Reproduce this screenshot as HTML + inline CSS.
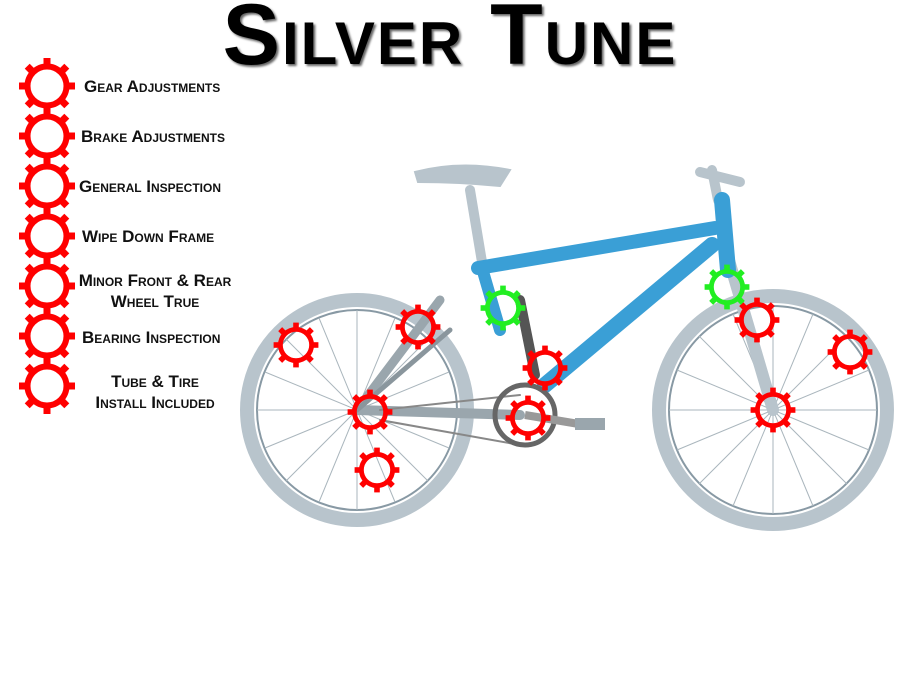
<!DOCTYPE html>
<html><head><meta charset="utf-8"><style>
body{margin:0;background:#fff;width:900px;height:695px;overflow:hidden;position:relative;font-family:"Liberation Sans",sans-serif}
.t{position:absolute;font-weight:bold;font-variant:small-caps;font-size:17px;color:#111;text-align:center;line-height:21px}
h1{position:absolute;left:0;width:900px;top:-14px;margin:0;text-align:center;font-size:86px;font-weight:900;font-variant:small-caps;letter-spacing:2px;color:#000;text-shadow:2px 2px 2px #666}
</style></head><body>
<svg width="900" height="695" style="position:absolute;left:0;top:0">
<defs>
<g id="teeth">
<rect x="-3.5" y="-28" width="7" height="8"/>
<rect x="-3.5" y="-28" width="7" height="8" transform="rotate(45)"/>
<rect x="-3.5" y="-28" width="7" height="8" transform="rotate(90)"/>
<rect x="-3.5" y="-28" width="7" height="8" transform="rotate(135)"/>
<rect x="-3.5" y="-28" width="7" height="8" transform="rotate(180)"/>
<rect x="-3.5" y="-28" width="7" height="8" transform="rotate(225)"/>
<rect x="-3.5" y="-28" width="7" height="8" transform="rotate(270)"/>
<rect x="-3.5" y="-28" width="7" height="8" transform="rotate(315)"/>
</g>
<g id="g"><circle r="19.5" fill="none" stroke="red" stroke-width="6"/><use href="#teeth" fill="red"/></g>
<g id="gg"><circle r="19.5" fill="none" stroke="#2e2" stroke-width="6"/><use href="#teeth" fill="#2e2"/></g>
</defs>
<g fill="none">
<circle cx="357" cy="410" r="110" stroke="#b8c4cc" stroke-width="14"/>
<circle cx="357" cy="410" r="100" stroke="#8899a4" stroke-width="2"/>
<circle cx="773" cy="410" r="114" stroke="#b8c4cc" stroke-width="14"/>
<circle cx="773" cy="410" r="104" stroke="#8899a4" stroke-width="2"/>
</g>
<g stroke="#aab6bd" stroke-width="1">
<path d="M357 310V510M257 410H457M286 339L428 481M428 339L286 481M319 318L395 502M395 318L319 502M265 372L449 448M265 448L449 372"/>
<path d="M773 306V514M669 410H877M699 336L847 484M847 336L699 484M733 314L813 506M813 314L733 506M677 370L869 450M677 450L869 370"/>
</g>
<g stroke-linecap="round" fill="none">
<path d="M470 190L482 262" stroke="#b8c4cc" stroke-width="10"/>
<path d="M415 172Q460 160 510 170L500 186Q460 182 418 182Z" fill="#b8c4cc" stroke="#b8c4cc" stroke-width="2"/>
<path d="M723 240L773 410" stroke="#b8c4cc" stroke-width="12"/>
<path d="M718 200L712 170M700 172L740 182" stroke="#b8c4cc" stroke-width="10"/>
<path d="M357 410L520 415" stroke="#9aa6ad" stroke-width="10"/>
<path d="M357 410L440 300" stroke="#9aa6ad" stroke-width="9"/>
<path d="M478 268L715 228" stroke="#3a9fd6" stroke-width="14"/>
<path d="M712 245L545 385" stroke="#3a9fd6" stroke-width="16"/>
<path d="M482 268L500 330" stroke="#3a9fd6" stroke-width="12"/>
<path d="M722 200L728 270" stroke="#3a9fd6" stroke-width="16"/>
<path d="M520 300L535 375" stroke="#555" stroke-width="10"/>
<path d="M357 410L450 330" stroke="#8a969d" stroke-width="5"/>
<path d="M380 410L520 395M380 420L520 445" stroke="#888" stroke-width="2"/>
</g>
<circle cx="525" cy="415" r="30" fill="none" stroke="#666" stroke-width="5"/>
<path d="M525 415L585 425" stroke="#999" stroke-width="8"/>
<rect x="575" y="418" width="30" height="12" fill="#9aa6ad"/>
<use href="#g" x="47" y="86"/><use href="#g" x="47" y="136"/><use href="#g" x="47" y="186"/>
<use href="#g" x="47" y="236"/><use href="#g" x="47" y="286"/><use href="#g" x="47" y="336"/><use href="#g" x="47" y="386"/>
<use href="#g" transform="translate(296,345) scale(0.8)"/>
<use href="#g" transform="translate(418,327) scale(0.8)"/>
<use href="#g" transform="translate(370,412) scale(0.8)"/>
<use href="#g" transform="translate(377,470) scale(0.8)"/>
<use href="#g" transform="translate(545,368) scale(0.8)"/>
<use href="#g" transform="translate(528,418) scale(0.8)"/>
<use href="#g" transform="translate(757,320) scale(0.8)"/>
<use href="#g" transform="translate(850,352) scale(0.8)"/>
<use href="#g" transform="translate(773,410) scale(0.8)"/>
<use href="#gg" transform="translate(503,308) scale(0.8)"/>
<use href="#gg" transform="translate(727,287) scale(0.8)"/>
</svg>
<h1>Silver Tune</h1>
<div class="t" style="left:84px;top:76px">Gear Adjustments</div>
<div class="t" style="left:81px;top:126px">Brake Adjustments</div>
<div class="t" style="left:79px;top:176px">General Inspection</div>
<div class="t" style="left:82px;top:226px">Wipe Down Frame</div>
<div class="t" style="left:70px;top:270px;width:170px">Minor Front &amp; Rear<br>Wheel True</div>
<div class="t" style="left:82px;top:327px">Bearing Inspection</div>
<div class="t" style="left:80px;top:371px;width:150px">Tube &amp; Tire<br>Install Included</div>
</body></html>
